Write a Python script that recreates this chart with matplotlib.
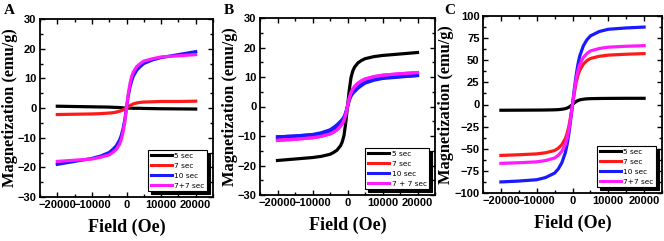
import matplotlib
matplotlib.use("Agg")
import matplotlib.pyplot as plt
from matplotlib.ticker import MultipleLocator

# Field points (Oe)
field = [-20000, -15000, -10000, -7500, -5000, -4000, -3000, -2000, -1500, -1000, -500,
         0, 500, 1000, 1500, 2000, 3000, 4000, 5000, 7500, 10000, 15000, 20000]

series_labels_A = ["5 sec", "7 sec", "10 sec", "7+7 sec"]
series_labels_B = ["5 sec", "7 sec", "10 sec", "7 + 7 sec"]
series_labels_C = ["5 sec", "7 sec", "10 sec", "7+7 sec"]
colors = ["#000000", "#ff1a1a", "#1a1aff", "#ff1aff"]

# Panel A magnetization (emu/g)
A_5 = [0.6, 0.5, 0.4, 0.35, 0.3, 0.25, 0.2, 0.15, 0.1, 0.05, 0.0,
       0.0, 0.0, -0.05, -0.05, -0.1, -0.1, -0.1, -0.15, -0.2, -0.25, -0.3, -0.35]
A_7 = [-2.2, -2.1, -2.0, -1.9, -1.7, -1.6, -1.4, -1.1, -0.9, -0.6, -0.3,
       0.0, 0.4, 0.8, 1.1, 1.4, 1.7, 1.9, 2.0, 2.1, 2.2, 2.2, 2.3]
A_10 = [-19.0, -18.0, -17.0, -16.2, -15.0, -14.0, -12.8, -10.8, -9.2, -7.0, -4.0,
        0.0, 4.0, 7.0, 9.2, 10.8, 12.8, 14.0, 15.0, 16.2, 17.0, 18.0, 19.0]
A_77 = [-18.0, -17.6, -17.2, -16.6, -15.8, -15.0, -14.0, -12.2, -10.6, -8.2, -4.8,
        0.0, 4.8, 8.2, 10.6, 12.2, 14.0, 15.0, 15.8, 16.6, 17.2, 17.6, 18.0]

# Panel B
B_5 = [-18.3, -17.8, -17.3, -16.9, -16.2, -15.6, -14.8, -13.3, -12.0, -9.8, -5.5,
       0.0, 5.5, 9.8, 12.0, 13.3, 14.8, 15.6, 16.2, 16.9, 17.3, 17.8, 18.3]
B_7 = [-11.0, -10.6, -10.1, -9.6, -8.8, -8.3, -7.5, -6.4, -5.6, -4.4, -2.6,
       0.0, 2.6, 4.4, 5.6, 6.4, 7.5, 8.3, 8.8, 9.6, 10.1, 10.6, 11.0]
B_10_up = [-10.3, -10.0, -9.5, -8.9, -7.9, -7.1, -6.2, -5.0, -4.4, -3.5, -2.0,
           0.0, 2.6, 4.3, 5.4, 6.2, 7.3, 8.0, 8.6, 9.3, 9.8, 10.2, 10.5]
B_10_down = [-10.3, -10.0, -9.6, -9.2, -8.5, -8.0, -7.3, -6.2, -5.4, -4.3, -2.6,
             0.0, 2.0, 3.5, 4.4, 5.0, 6.2, 7.1, 7.9, 8.9, 9.5, 10.0, 10.5]
B_77 = [-11.5, -11.1, -10.6, -10.1, -9.3, -8.7, -7.9, -6.7, -5.8, -4.6, -2.7,
        0.0, 2.7, 4.6, 5.8, 6.7, 7.9, 8.7, 9.3, 10.1, 10.6, 11.1, 11.5]

# Panel C
C_5 = [-6.5, -6.4, -6.3, -6.2, -6.0, -5.8, -5.4, -4.7, -4.0, -3.0, -1.6,
       0.0, 1.8, 3.3, 4.4, 5.2, 6.0, 6.4, 6.6, 6.8, 6.9, 7.0, 7.0]
C_7 = [-57.5, -56.8, -55.8, -54.5, -52.0, -49.5, -45.5, -38.5, -32.5, -24.5, -13.0,
       0.0, 13.0, 24.5, 32.5, 38.5, 45.5, 49.5, 52.0, 54.5, 55.8, 56.8, 57.5]
C_10 = [-87.5, -86.5, -85.0, -82.5, -77.5, -73.0, -66.0, -54.5, -45.0, -32.5, -17.0,
        0.0, 17.0, 32.5, 45.0, 54.5, 66.0, 73.0, 77.5, 82.5, 85.0, 86.5, 87.5]
C_77 = [-66.5, -65.8, -64.8, -63.3, -60.5, -57.5, -53.0, -45.0, -38.0, -28.5, -15.0,
        0.0, 15.0, 28.5, 38.0, 45.0, 53.0, 57.5, 60.5, 63.3, 64.8, 65.8, 66.5]

A_yticks = [-30, -20, -10, 0, 10, 20, 30]
C_yticks = [-100, -75, -50, -25, 0, 25, 50, 75, 100]
x_ticks = [-20000, -10000, 0, 10000, 20000]

serif = "Liberation Serif"
sans = "Liberation Sans"

fig = plt.figure(figsize=(6.64, 2.41), dpi=100)
W, H = 664.0, 241.0

def make_ax(l, r, t, b):
    return fig.add_axes([l / W, 1 - b / H, (r - l) / W, (b - t) / H])

axA = make_ax(40, 213, 19, 197)
axB = make_ax(260, 435, 18, 195)
axC = make_ax(483, 662, 16, 193)

def style(ax, yticks, ylim, yminor, letter, lx):
    ax.set_xlim(-25000, 25000)
    ax.set_ylim(*ylim)
    ax.set_xticks(x_ticks)
    ax.set_yticks(yticks)
    ax.xaxis.set_minor_locator(MultipleLocator(5000))
    ax.yaxis.set_minor_locator(MultipleLocator(yminor))
    ax.tick_params(which="both", direction="in", top=True, right=True, width=1.0, pad=2.5)
    ax.tick_params(which="major", length=3.5)
    ax.tick_params(which="minor", length=2)
    for lab in ax.get_xticklabels() + ax.get_yticklabels():
        lab.set_fontfamily(sans)
        lab.set_fontweight("bold")
        lab.set_fontsize(8)
    for s in ax.spines.values():
        s.set_linewidth(1.3)
    ax.set_xlabel("Field (Oe)", fontfamily=serif, fontweight="bold", fontsize=13, labelpad=6)
    ax.set_ylabel("Magnetization (emu/g)", fontfamily=serif, fontweight="bold", fontsize=11.8, labelpad=0)
    fig.text(lx / W, 1 - 11 / H, letter, fontfamily=serif, fontweight="bold", fontsize=11,
             va="center", ha="left")

def legend(ax, handles, labels):
    leg = ax.legend(handles, labels, loc="lower right", fontsize=5.3, frameon=True,
                    fancybox=False, shadow={"color": "black", "alpha": 1.0},
                    handlelength=2.9, handletextpad=0.3, borderpad=0.35,
                    labelspacing=0.5, borderaxespad=0.8)
    leg.get_frame().set_edgecolor("black")
    leg.get_frame().set_linewidth(0.8)
    for line in leg.get_lines():
        line.set_linewidth(2.2)

lw = 2.3
hA = [axA.plot(field, ys, color=c, lw=lw)[0] for ys, c in zip([A_5, A_7, A_10, A_77], colors)]
style(axA, A_yticks, (-30, 30), 5, "A", 4)
legend(axA, hA, series_labels_A)

hB = [axB.plot(field, ys, color=c, lw=lw)[0] for ys, c in zip([B_5, B_7, B_10_up, B_77], colors)]
axB.plot(field, B_10_down, color=colors[2], lw=lw)
axB.plot(field, B_77, color=colors[3], lw=lw)
style(axB, A_yticks, (-30, 30), 5, "B", 224)
legend(axB, hB, series_labels_B)

hC = [axC.plot(field, ys, color=c, lw=lw)[0] for ys, c in zip([C_5, C_7, C_10, C_77], colors)]
style(axC, C_yticks, (-100, 100), 12.5, "C", 444)
legend(axC, hC, series_labels_C)

fig.savefig("out.png", dpi=100)
